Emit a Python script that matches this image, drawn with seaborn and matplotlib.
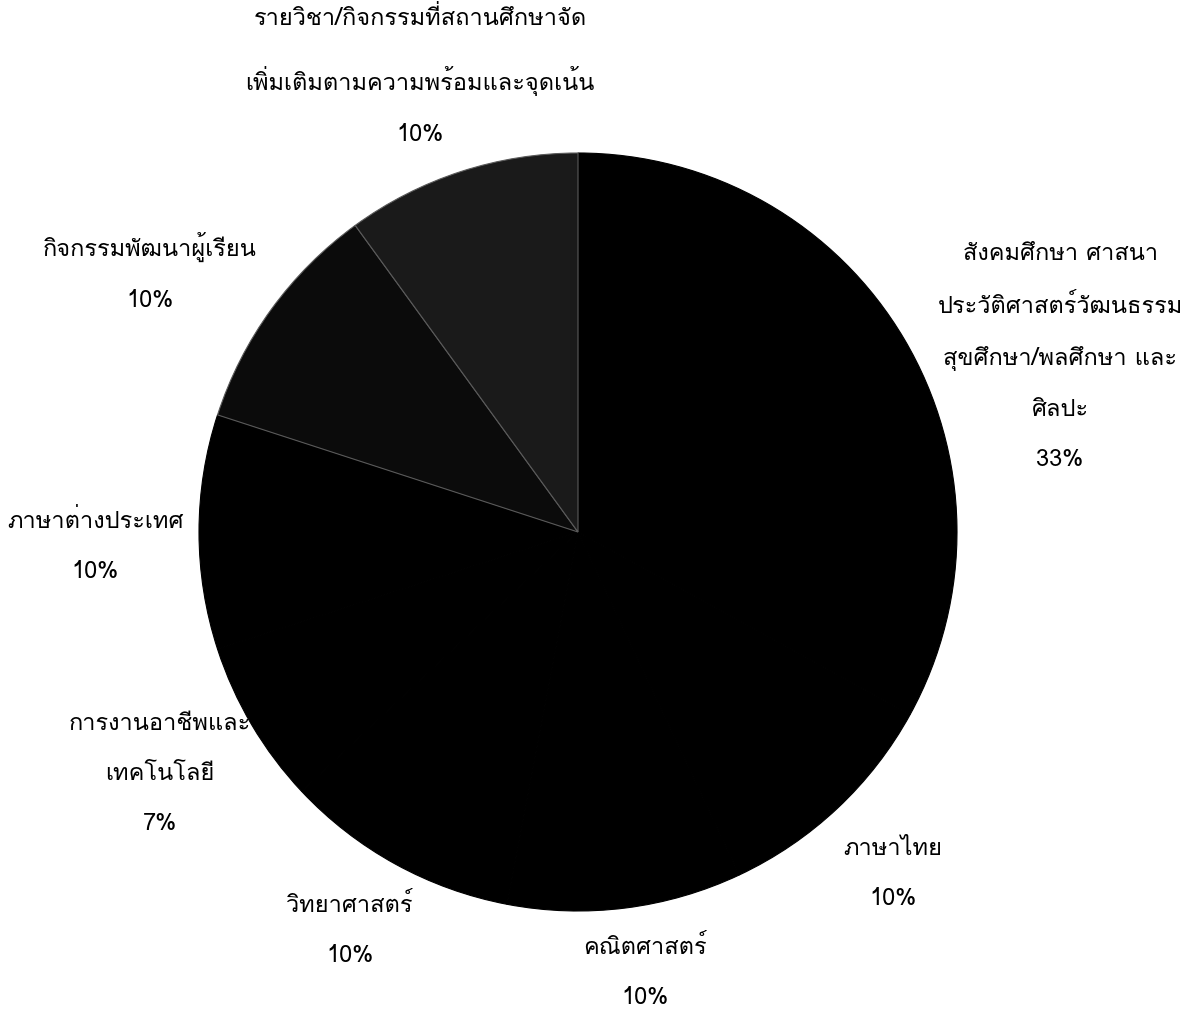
import matplotlib
matplotlib.use("Agg")
import matplotlib.pyplot as plt
import seaborn as sns

sns.set_theme(style="white")
plt.rcParams['font.family'] = ['Loma', 'DejaVu Sans']

# ---- data ----
categories = [
    "สังคมศึกษา ศาสนา\nประวัติศาสตร์วัฒนธรรม\nสุขศึกษา/พลศึกษา และ\nศิลปะ",
    "ภาษาไทย",
    "คณิตศาสตร์",
    "วิทยาศาสตร์",
    "การงานอาชีพและ\nเทคโนโลยี",
    "ภาษาต่างประเทศ",
    "กิจกรรมพัฒนาผู้เรียน",
    "รายวิชา/กิจกรรมที่สถานศึกษาจัด\nเพิ่มเติมตามความพร้อมและจุดเน้น",
]
percent = [33, 10, 10, 10, 7, 10, 10, 10]

# ---- styling / layout ----
colors = ["#000000", "#000000", "#000000", "#000000", "#000000", "#000000", "#0b0b0b", "#1a1a1a"]
edges = ["#000000", "#000000", "#000000", "#000000", "#000000", "#000000", "#5a5a5a", "#5a5a5a"]
# label anchor positions (in pie-radius units)
label_pos = [(1.272, 0.462), (0.831, -0.900), (0.177, -1.161), (-0.602, -1.050),
             (-1.103, -0.636), (-1.274, -0.037), (-1.129, 0.686), (-0.417, 1.203)]

W, H = 1194, 1011
cx, cy, R = 578, 532, 379
fig = plt.figure(figsize=(W / 100, H / 100), dpi=100)
ax = fig.add_axes([0, 0, 1, 1])

wedges, _ = ax.pie(percent, colors=colors, startangle=90, counterclock=False,
                   radius=1.0, wedgeprops=dict(linewidth=0.8))
for w, ec in zip(wedges, edges):
    w.set_edgecolor(ec)

ax.set_xlim(-cx / R, (W - cx) / R)
ax.set_ylim(-(H - cy) / R, cy / R)
ax.set_aspect("equal")
ax.axis("off")

for lab, p, (x, y) in zip(categories, percent, label_pos):
    ax.text(x, y, f"{lab}\n{p}%", ha="center", va="center", fontsize=17,
            color="black", linespacing=2.5, multialignment="center")

fig.savefig("out.png", dpi=100, facecolor="white")
